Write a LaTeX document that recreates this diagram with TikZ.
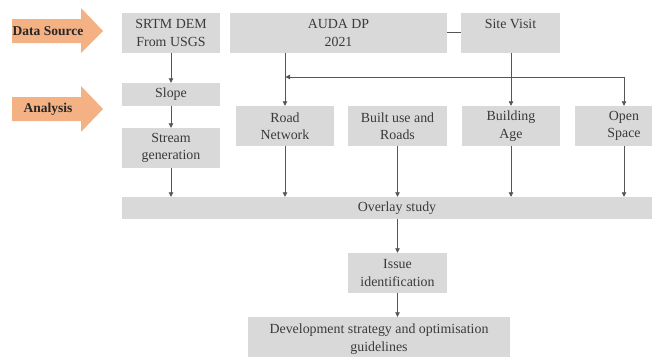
\documentclass[tikz,border=0pt]{standalone}
\usepackage{fontspec}
\setmainfont{Liberation Serif}
\usetikzlibrary{arrows.meta}
\definecolor{boxfill}{HTML}{D9D9D9}
\definecolor{orangefill}{HTML}{F4B183}
\definecolor{txt}{HTML}{3A3A3A}
\definecolor{linec}{HTML}{555555}
\tikzset{
  box/.style={draw=none, fill=boxfill, text=txt, align=center, inner sep=0pt,
    font=\fontsize{13.9}{17.5}\selectfont},
  conn/.style={draw=linec, line width=0.8pt},
  arr/.style={conn, -{Triangle[length=4.5pt,width=4.5pt]}},
  banner/.style={fill=orangefill, draw=none},
  bannertext/.style={text=black!85, font=\fontsize{13.5}{16}\selectfont\bfseries}
}
\begin{document}
\begin{tikzpicture}[x=1pt,y=-1pt]
\useasboundingbox (0,0) rectangle (652,356);
\clip (0,0) rectangle (652,356);
% orange banners
\fill[banner] (12,19) -- (81,19) -- (81,8) -- (103,31) -- (81,53) -- (81,43) -- (12,43) -- cycle;
\node[bannertext] (ds) at (48,31) {Data Source};
\fill[banner] (12,97) -- (81,97) -- (81,86) -- (103,109) -- (81,132) -- (81,121) -- (12,121) -- cycle;
\node[bannertext] (an) at (48,109) {Analysis};
% boxes
\node[box, minimum width=98pt, minimum height=40pt] (srtm) at (171,33) {SRTM DEM\\From USGS};
\node[box, minimum width=98pt, minimum height=23pt] (slope) at (171,94.5) {Slope};
\node[box, minimum width=98pt, minimum height=40pt] (stream) at (171,148) {Stream\\generation};
\node[box, minimum width=217pt, minimum height=40pt] (auda) at (338.5,33) {AUDA DP\\2021};
\node[box, minimum width=99pt, minimum height=40pt] (site) at (510.5,33) {Site Visit\\\mbox{}};
\node[box, minimum width=98pt, minimum height=40pt] (road) at (285,126) {Road\\Network};
\node[box, minimum width=99pt, minimum height=40pt] (built) at (397.5,126) {Built use and\\Roads};
\node[box, minimum width=98pt, minimum height=40pt] (bage) at (511,126) {Building\\Age};
\node[box, minimum width=98pt, minimum height=40pt] (open) at (624,126) {Open\\Space};
\node[box, minimum width=550pt, minimum height=22pt] (overlay) at (397,208) {Overlay study};
\node[box, minimum width=99pt, minimum height=40pt] (issue) at (397.5,273) {Issue\\identification};
\node[box, minimum width=262pt, minimum height=44pt] (dev) at (379,339) {Development strategy and optimisation\\guidelines};
% connectors
\draw[arr] (srtm) -- (slope);
\draw[arr] (slope) -- (stream);
\draw[arr] (stream) -- (stream |- overlay.north);
\draw[conn] (auda.east |- 0,32) -- (site.west |- 0,32);
\draw[arr] (auda.south -| road) -- (road.north);
\draw[arr] (site.south -| bage) -- (bage.north);
\coordinate (turn) at (624,77);
\coordinate (join) at (285.5,77);
\draw[arr] (turn) -- (join);
\draw[arr] (turn) -- (open.north);
\draw[arr] (road) -- (road |- overlay.north);
\draw[arr] (built) -- (built |- overlay.north);
\draw[arr] (bage) -- (bage |- overlay.north);
\draw[arr] (open) -- (open |- overlay.north);
\draw[arr] (overlay.south -| issue) -- (issue.north);
\draw[arr] (issue) -- (issue |- dev.north);
\end{tikzpicture}
\end{document}
